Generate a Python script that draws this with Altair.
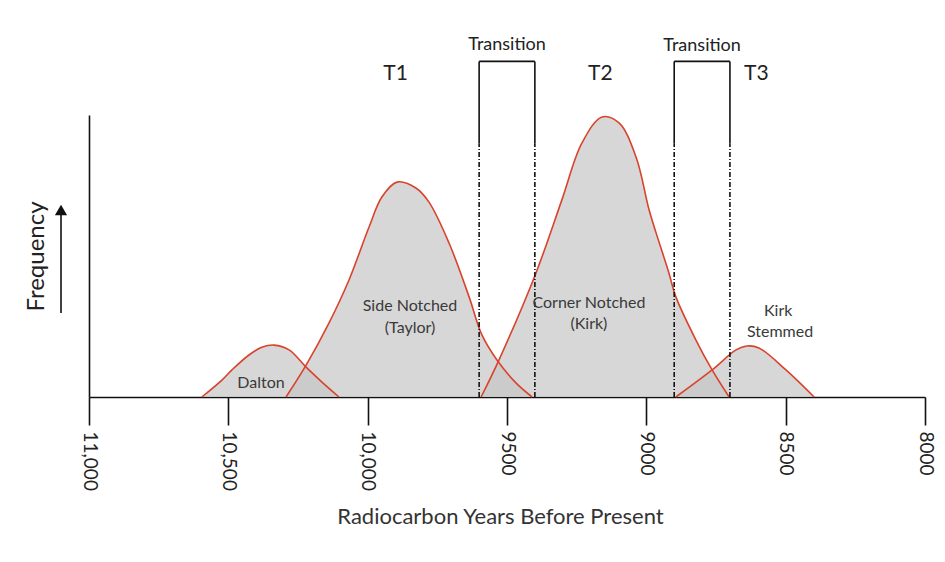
import altair as alt
import pandas as pd

# ---------------- data ----------------
# x = radiocarbon years BP, y = relative frequency (y-axis top = 100)
dalton_years = [10595, 10523, 10487, 10426, 10380, 10336, 10282, 10221, 10164, 10103]
dalton_freq = [0, 6.0, 9.6, 14.9, 17.6, 18.4, 16.7, 10.6, 5.3, 0]

side_years = [10293, 10221, 10139, 10067, 9995, 9949, 9895, 9827, 9780, 9708, 9636, 9590, 9536, 9468, 9410]
side_freq = [0, 11.3, 26.2, 41.5, 60.3, 70.9, 76.2, 74.1, 69.1, 54.6, 35.5, 22.0, 13.1, 5.0, 0]

corner_years = [9593, 9529, 9396, 9303, 9231, 9159, 9098, 9037, 8990, 8965, 8919, 8894, 8822, 8764, 8703]
corner_freq = [0, 13.1, 44.0, 69.9, 90.1, 99.3, 97.2, 85.1, 66.3, 58.2, 44.0, 35.5, 20.2, 9.6, 0]

kirk_years = [8894, 8764, 8678, 8639, 8596, 8499, 8398]
kirk_freq = [0, 9.6, 16.7, 18.1, 17.4, 9.6, 0]

series_names = ["Dalton", "Side Notched", "Corner Notched", "Kirk Stemmed"]

# transition windows
trans_start = [9600, 8900]
trans_end = [9400, 8700]
box_top = 119
solid_floor = 90

# annotation texts
top_text = ["Transition", "Transition", "T1", "T2", "T3"]
top_text_year = [9500, 8800, 9900, 9165, 8605]
top_text_freq = [124.8, 124.5, 114.5, 114.5, 114.5]
top_text_size = [18, 18, 21, 21, 21]

curve_text = ["Dalton", "Side Notched", "(Taylor)", "Corner Notched", "(Kirk)", "Kirk", "Stemmed"]
curve_text_year = [10383, 9848, 9848, 9206, 9206, 8527, 8520]
curve_text_freq = [5.0, 32.3, 24.5, 33.3, 25.9, 30.5, 23.0]

tick_values = [11000, 10500, 10000, 9500, 9000, 8500, 8000]

# ---------------- tables ----------------
rows = []
for name, ys, fs in zip(series_names,
                        [dalton_years, side_years, corner_years, kirk_years],
                        [dalton_freq, side_freq, corner_freq, kirk_freq]):
    for y_, f_ in zip(ys, fs):
        rows.append({"series": name, "year": y_, "freq": f_})
curves = pd.DataFrame(rows)

edges = pd.DataFrame({"year": trans_start + trans_end,
                      "freq": [0] * 4, "mid": [solid_floor] * 4, "top": [box_top] * 4})
tops = pd.DataFrame({"year": trans_start, "x2": trans_end, "freq": [box_top] * 2})
toptext = pd.DataFrame({"label": top_text, "year": top_text_year,
                        "freq": top_text_freq, "size": top_text_size})
ctext = pd.DataFrame({"label": curve_text, "year": curve_text_year, "freq": curve_text_freq})

FONT = "Lato"
xscale = alt.Scale(domain=[8000, 11000], reverse=True, nice=False, zero=False)
yscale = alt.Scale(domain=[0, 100], nice=False, zero=True)

x_axis = alt.Axis(
    values=tick_values,
    labelExpr="datum.value >= 10000 ? format(datum.value, ',') : format(datum.value, 'd')",
    labelAngle=90, labelFontSize=19, labelFont=FONT, labelColor="#222222",
    labelPadding=6, tickSize=28, tickWidth=1.6, tickColor="#111111",
    domainColor="#111111", domainWidth=1.6, grid=False,
    title="Radiocarbon Years Before Present", titleFont=FONT, titleFontSize=22,
    titleFontWeight="normal", titleColor="#333333", titlePadding=16, titleX=411,
)
y_axis = alt.Axis(
    labels=False, ticks=False, grid=False, domain=True,
    domainColor="#111111", domainWidth=1.6, minExtent=0,
    title="Frequency", titleFont=FONT, titleFontSize=24, titleFontWeight="normal",
    titleColor="#222222", titlePadding=41,
)

X = alt.X("year:Q", scale=xscale, axis=x_axis, title="Radiocarbon Years Before Present")
Y = alt.Y("freq:Q", scale=yscale, axis=y_axis, title="Frequency", stack=None)

base = alt.Chart(curves)

areas = base.mark_area(interpolate="catmull-rom", fill="#c6c6c6", opacity=0.7).encode(
    x=X, y=Y, detail="series:N",
)
lines = base.mark_line(interpolate="catmull-rom", color="#d9432b", strokeWidth=1.6).encode(
    x=X, y=Y, detail="series:N",
)

dash = alt.Chart(edges).mark_rule(color="#111111", strokeWidth=1.6, strokeDash=[5, 2, 1, 2]).encode(
    x=X, y=Y, y2="mid:Q",
)
solid = alt.Chart(edges).mark_rule(color="#111111", strokeWidth=1.6).encode(
    x=X, y=alt.Y("mid:Q", scale=yscale, axis=y_axis, title="Frequency"), y2="top:Q",
)
topline = alt.Chart(tops).mark_rule(color="#111111", strokeWidth=1.6).encode(
    x=X, x2="x2:Q", y=Y,
)

ttext = alt.Chart(toptext).mark_text(font=FONT, color="#222222", align="center", baseline="middle").encode(
    x=X, y=Y, text="label:N",
    size=alt.Size("size:Q", scale=None, legend=None),
)
ctx = alt.Chart(ctext).mark_text(font=FONT, fontSize=16, color="#3a3a3a", align="center", baseline="middle").encode(
    x=X, y=Y, text="label:N",
)

# arrow next to the "Frequency" title
arrow_shaft = alt.Chart(pd.DataFrame({"a": [0]})).mark_rule(color="#111111", strokeWidth=1.6).encode(
    x=alt.value(-28), y=alt.value(198), y2=alt.value(100),
)
arrow_head = alt.Chart(pd.DataFrame({"a": [0]})).mark_point(
    shape="triangle-up", filled=True, color="#111111", size=150, opacity=1
).encode(x=alt.value(-28), y=alt.value(95))

chart = alt.layer(areas, lines, dash, solid, topline, ttext, ctx, arrow_shaft, arrow_head).properties(
    width=836, height=282,
    autosize=alt.AutoSizeParams(type="none"),
    padding={"left": 81, "top": 107, "right": 12, "bottom": 150},
).configure(background="white").configure_view(stroke=None)

chart.save("out.html", embed_options={"renderer": "svg", "actions": False})
